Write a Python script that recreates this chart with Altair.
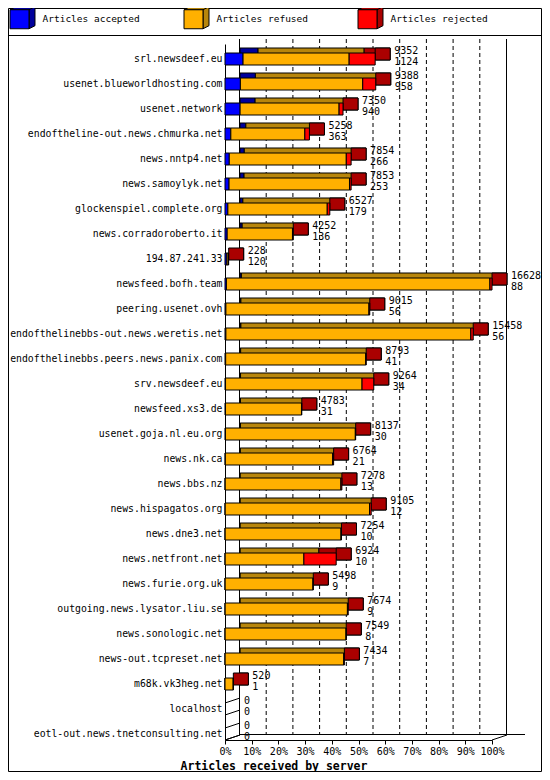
import altair as alt
import pandas as pd

servers = [
    "srl.newsdeef.eu", "usenet.blueworldhosting.com", "usenet.network",
    "endoftheline-out.news.chmurka.net", "news.nntp4.net", "news.samoylyk.net",
    "glockenspiel.complete.org", "news.corradoroberto.it", "194.87.241.33",
    "newsfeed.bofh.team", "peering.usenet.ovh", "endofthelinebbs-out.news.weretis.net",
    "endofthelinebbs.peers.news.panix.com", "srv.newsdeef.eu", "newsfeed.xs3.de",
    "usenet.goja.nl.eu.org", "news.nk.ca", "news.bbs.nz", "news.hispagatos.org",
    "news.dne3.net", "news.netfront.net", "news.furie.org.uk",
    "outgoing.news.lysator.liu.se", "news.sonologic.net", "news-out.tcpreset.net",
    "m68k.vk3heg.net", "localhost", "eotl-out.news.tnetconsulting.net",
]
offered = [9352, 9388, 7350, 5258, 7854, 7853, 6527, 4252, 228, 16628, 9015, 15458,
           8793, 9264, 4783, 8137, 6764, 7278, 9105, 7254, 6924, 5498, 7674, 7549,
           7434, 520, 0, 0]
accepted = [1124, 958, 940, 363, 266, 253, 179, 136, 120, 88, 56, 56, 41, 34, 31, 30,
            21, 13, 12, 10, 10, 9, 9, 8, 7, 1, 0, 0]
rejected = [1620, 810, 245, 285, 300, 100, 160, 50, 20, 130, 50, 150, 30, 730, 20, 20,
            60, 60, 100, 30, 2010, 20, 50, 10, 40, 10, 0, 0]

categories = ["Articles accepted", "Articles refused", "Articles rejected"]
front_colors = ["#0000ff", "#ffb000", "#ff0000"]
back_colors = ["#00009c", "#b8860b", "#aa0000"]
tick_values = [0, 0.1, 0.2, 0.3, 0.4, 0.5, 0.6, 0.7, 0.8, 0.9, 1.0]

MONO = "DejaVu Sans Mono"
max_total = max(offered)

rows = []
for i, s in enumerate(servers):
    refused = offered[i] - accepted[i] - rejected[i]
    for k, v in enumerate([accepted[i], refused, rejected[i]]):
        rows.append({"server": s, "cat": categories[k], "ord": k, "v": v / max_total})
seg = pd.DataFrame(rows)

tot = pd.DataFrame({
    "server": servers,
    "total": [o / max_total for o in offered],
    "label": [f"{o}\n{a}" for o, a in zip(offered, accepted)],
    "n": offered,
})
ticks_df = pd.DataFrame({"t": tick_values})

W, H = 267, 696
DX, DY = 15, 5
LEFT_PAD, TOP_PAD = 217, 36
RIGHT_PAD = 534 - LEFT_PAD - W
BOTTOM_PAD = 764 - TOP_PAD - H

xs = alt.Scale(domain=[0, 1], nice=False, zero=True)
xaxis = alt.Axis(values=tick_values, format=".0%", grid=False, labelOverlap=False,
                 labelFlush=False,
                 labelFont=MONO, labelFontSize=10, labelColor="black",
                 tickColor="black", tickSize=4, labelPadding=2,
                 domainColor="black",
                 title="Articles received by server", titleFont=MONO,
                 titleFontSize=11.5, titleFontWeight="bold",
                 titleColor="black", titleX=48.5, titleY=26,
                 titleBaseline="middle", titleAlign="center")
ys = alt.Scale(paddingInner=0.52, paddingOuter=0.18, align=1)
Y = alt.Y("server:N", sort=servers, scale=ys,
          axis=alt.Axis(title=None, ticks=False, labelPadding=3, labelFont=MONO,
                        labelFontSize=9.8, labelColor="black", domainColor="black",
                        labelLimit=300))

pathA = "M-1,-1H1V1H-1Z M1.63,-1.32"
pathB = "M-1,-1L-0.37,-1.32L1.63,-1.32L1.63,0.68L1,1L1,-1Z M1,-1L1.63,-1.32"

common_leg = dict(title=None, orient="none", legendX=-215.5, legendY=-35,
                  direction="horizontal", columns=3, columnPadding=41, gridAlign="all",
                  symbolSize=361, symbolStrokeColor="black", symbolStrokeWidth=1,
                  symbolOpacity=1, labelFont=MONO, labelFontSize=9.5, labelOffset=13,
                  labelColor="black", padding=0)

label_expr = "[" + ",".join(f"'{c}'" for c in categories) + "][datum.value]"

# frame and separator
one = alt.Data(values=[{"a": 1}])
fr_right = W + RIGHT_PAD - 0.5
fr_bottom = H + BOTTOM_PAD - 0.5
frame = alt.Chart(one).mark_rect(filled=False, stroke="black", strokeWidth=1).encode(
    x=alt.value(-LEFT_PAD + 0.5), x2=alt.value(fr_right),
    y=alt.value(-TOP_PAD + 0.5), y2=alt.value(fr_bottom))
sep = alt.Chart(one).mark_rule(color="black").encode(
    x=alt.value(-LEFT_PAD), x2=alt.value(fr_right), y=alt.value(-8.5))

# back plane
base_t = alt.Chart(ticks_df)
grid_dash = base_t.transform_filter("datum.t > 0 && datum.t < 1").mark_rule(
    xOffset=DX - 0.5, strokeDash=[4, 3], color="black").encode(
    x=alt.X("t:Q", scale=xs, axis=xaxis), y=alt.value(-DY), y2=alt.value(H - DY))
grid_solid = base_t.transform_filter("datum.t == 0 || datum.t == 1").mark_rule(
    xOffset=DX - 0.5, color="black").encode(
    x=alt.X("t:Q", scale=xs, axis=xaxis), y=alt.value(-DY), y2=alt.value(H - DY))
floor_diag = base_t.transform_filter("datum.t == 0 || datum.t == 1").mark_rule(
    x2Offset=DX, color="black").encode(
    x=alt.X("t:Q", scale=xs, axis=xaxis), x2="t", y=alt.value(H), y2=alt.value(H - DY))
floor_back = alt.Chart(one).mark_rule(color="black").encode(
    x=alt.value(DX), x2=alt.value(W + 33), y=alt.value(H - DY - 0.5))

stacked = alt.Chart(seg).transform_stack(
    stack="v", as_=["x0", "x1"], groupby=["server"],
    sort=[alt.SortField("ord", order="ascending")]
).transform_filter("datum.v > 0")

back = stacked.mark_bar(xOffset=DX, x2Offset=DX, yOffset=-DY, stroke="black",
                        strokeWidth=1).encode(
    x=alt.X("x0:Q", scale=xs, axis=xaxis), x2="x1:Q", y=Y,
    fill=alt.Fill("ord:N", scale=alt.Scale(domain=[0, 1, 2], range=back_colors),
                  legend=alt.Legend(symbolType=pathB, labelOpacity=0,
                                    labelExpr=label_expr, **common_leg)))

side = alt.Chart(tot).transform_filter("datum.n > 0").mark_bar(
    x2Offset=DX, yOffset=-DY, fill=back_colors[2], stroke="black", strokeWidth=1).encode(
    x=alt.X("total:Q", scale=xs, axis=xaxis), x2="total:Q", y=Y)

zero_top = alt.Chart(tot).transform_filter("datum.n == 0").mark_rule(
    yOffset=-6, y2Offset=-11, color="black").encode(
    x=alt.value(0), x2=alt.value(DX), y=Y, y2=alt.Y2("server"))
zero_bot = alt.Chart(tot).transform_filter("datum.n == 0").mark_rule(
    yOffset=6, y2Offset=1, color="black").encode(
    x=alt.value(0), x2=alt.value(DX), y=Y, y2=alt.Y2("server"))

front = stacked.mark_bar(stroke="black", strokeWidth=1).encode(
    x=alt.X("x0:Q", scale=xs, axis=xaxis),
    x2="x1:Q", y=Y,
    color=alt.Color("cat:N", scale=alt.Scale(domain=categories, range=front_colors),
                    legend=alt.Legend(symbolType=pathA, **common_leg)))

labels = alt.Chart(tot).mark_text(
    align="left", baseline="alphabetic", dx=DX + 4, dy=-5, lineHeight=11,
    lineBreak="\n", font=MONO, fontSize=10, color="black").encode(
    x=alt.X("total:Q", scale=xs, axis=xaxis), y=Y, text="label:N")

chart = alt.layer(
    frame, sep, grid_dash, grid_solid, floor_back, floor_diag,
    back, side, zero_top, zero_bot, front, labels
).properties(
    width=W, height=H,
    autosize=alt.AutoSizeParams(type="none"),
    padding={"left": LEFT_PAD, "top": TOP_PAD, "right": RIGHT_PAD, "bottom": BOTTOM_PAD},
    background="white",
).configure_view(stroke=None)

chart.save("out.html", embed_options={"renderer": "svg", "actions": False})
